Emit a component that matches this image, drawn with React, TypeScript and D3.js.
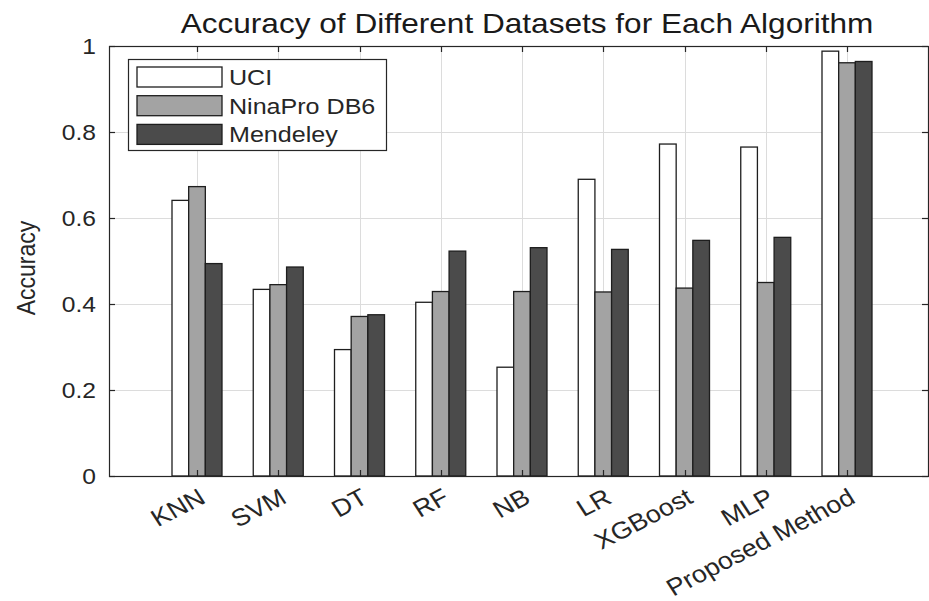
import React, { useEffect, useRef } from 'react';
import * as d3 from 'd3';

const categories = ['KNN', 'SVM', 'DT', 'RF', 'NB', 'LR', 'XGBoost', 'MLP', 'Proposed Method'];
const seriesNames = ['UCI', 'NinaPro DB6', 'Mendeley'];
const uci = [0.641, 0.434, 0.294, 0.404, 0.253, 0.69, 0.772, 0.765, 0.988];
const ninapro = [0.673, 0.445, 0.371, 0.429, 0.429, 0.428, 0.437, 0.45, 0.961];
const mendeley = [0.494, 0.486, 0.375, 0.523, 0.531, 0.527, 0.548, 0.555, 0.964];
const yTicks = [0, 0.2, 0.4, 0.6, 0.8, 1];
const yTickLabels = ['0', '0.2', '0.4', '0.6', '0.8', '1'];

const colors = ['#ffffff', '#a3a3a3', '#4b4b4b'];
const font = 'Arial, "Liberation Sans", Helvetica, sans-serif';
const SX = 1.12; // the reference is stretched a little sideways

function App() {
    const svgRef = useRef(null);

    useEffect(() => {
        const svg = d3.select(svgRef.current);
        svg.selectAll('*').remove();

        const left = 109, right = 928, top = 46, bottom = 476;

        const x = d3.scalePoint().domain(categories).range([197, 847]);
        const xs = d3.scaleBand().domain(seriesNames).range([-25, 25]).padding(0);
        const y = d3.scaleLinear().domain([0, 1]).range([bottom, top]);

        svg.append('rect').attr('width', 929).attr('height', 601).attr('fill', '#fff');

        // grid
        const grid = svg.append('g').attr('stroke', '#dcdcdc').attr('stroke-width', 1);
        grid.selectAll('line.h').data(yTicks.slice(1, -1)).enter().append('line')
            .attr('x1', left).attr('x2', right)
            .attr('y1', d => Math.round(y(d)) + 0.5).attr('y2', d => Math.round(y(d)) + 0.5);
        grid.selectAll('line.v').data(categories).enter().append('line')
            .attr('y1', top).attr('y2', bottom)
            .attr('x1', d => Math.round(x(d)) + 0.5).attr('x2', d => Math.round(x(d)) + 0.5);

        // bars
        const allSeries = [uci, ninapro, mendeley];
        seriesNames.forEach((name, si) => {
            svg.append('g').selectAll('rect').data(categories).enter().append('rect')
                .attr('x', d => x(d) + xs(name))
                .attr('width', xs.bandwidth())
                .attr('y', (d, i) => y(allSeries[si][i]))
                .attr('height', (d, i) => bottom - y(allSeries[si][i]))
                .attr('fill', colors[si])
                .attr('stroke', '#1e1e1e')
                .attr('stroke-width', 1.3);
        });

        // box and ticks
        const axis = svg.append('g').attr('stroke', '#262626').attr('stroke-width', 1.2).attr('fill', 'none');
        axis.append('rect').attr('x', left + 0.5).attr('y', top + 0.5)
            .attr('width', right - left).attr('height', bottom - top);
        yTicks.forEach(t => {
            const yy = Math.round(y(t)) + 0.5;
            axis.append('line').attr('x1', left).attr('x2', left + 6).attr('y1', yy).attr('y2', yy);
            axis.append('line').attr('x1', right - 6).attr('x2', right).attr('y1', yy).attr('y2', yy);
        });
        categories.forEach(c => {
            const xx = Math.round(x(c)) + 0.5;
            axis.append('line').attr('x1', xx).attr('x2', xx).attr('y1', top).attr('y2', top + 6);
            axis.append('line').attr('x1', xx).attr('x2', xx).attr('y1', bottom - 6).attr('y2', bottom);
        });

        // y tick labels
        svg.append('g').selectAll('text').data(yTicks).enter().append('text')
            .attr('transform', d => `translate(96,${y(d) + 8}) scale(${SX},1)`)
            .attr('text-anchor', 'end')
            .style('font-family', font).style('font-size', '22px').attr('fill', '#262626')
            .text((d, i) => yTickLabels[i]);

        // x tick labels
        svg.append('g').selectAll('text').data(categories).enter().append('text')
            .attr('transform', d => `translate(${x(d) + 10},502) scale(${SX},1) rotate(-30)`)
            .attr('text-anchor', 'end')
            .style('font-family', font).style('font-size', '24px').attr('fill', '#262626')
            .text(d => d);

        // y label
        svg.append('text')
            .attr('transform', `translate(35,268) scale(${SX},1) rotate(-90)`)
            .attr('text-anchor', 'middle')
            .style('font-family', font).style('font-size', '23px').attr('fill', '#262626')
            .text('Accuracy');

        // title
        svg.append('text')
            .attr('transform', `translate(527,33) scale(1.17,1)`)
            .attr('text-anchor', 'middle')
            .style('font-family', font).style('font-size', '27px').attr('fill', '#1a1a1a')
            .text('Accuracy of Different Datasets for Each Algorithm');

        // legend
        const lg = svg.append('g');
        lg.append('rect').attr('x', 128.5).attr('y', 59.5).attr('width', 258).attr('height', 91)
            .attr('fill', '#fff').attr('stroke', '#262626').attr('stroke-width', 1.2);
        seriesNames.forEach((name, i) => {
            const yy = 67 + i * 28.7;
            lg.append('rect').attr('x', 137).attr('y', yy).attr('width', 85).attr('height', 20)
                .attr('fill', colors[i]).attr('stroke', '#1e1e1e').attr('stroke-width', 1.3);
            lg.append('text')
                .attr('transform', `translate(229,${yy + 18}) scale(1.14,1)`)
                .style('font-family', font).style('font-size', '22px').attr('fill', '#262626')
                .text(name);
        });
    }, []);

    return (
        <div style={{ position: 'absolute', left: 0, top: 0 }}>
            <svg ref={svgRef} width={929} height={601} style={{ display: 'block' }}></svg>
        </div>
    );
}

export default App;
